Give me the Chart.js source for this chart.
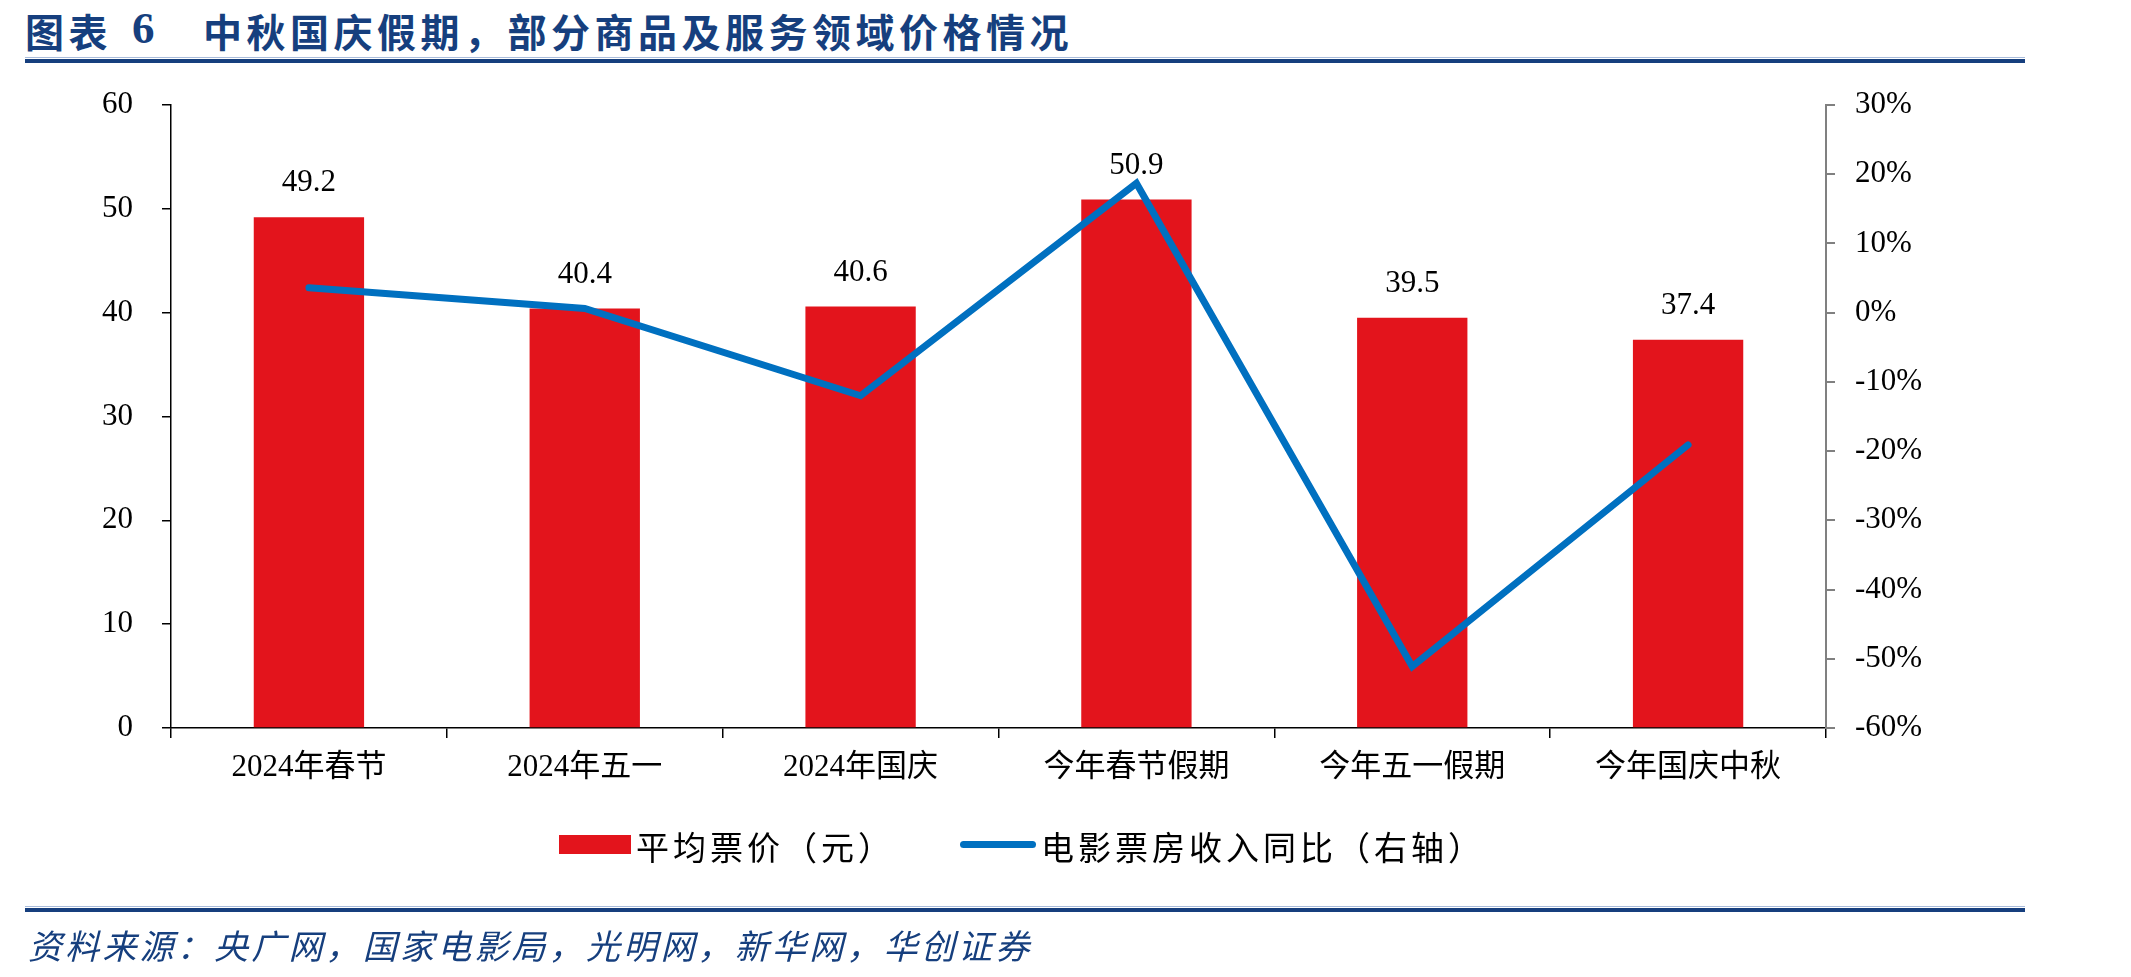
<!DOCTYPE html>
<html lang="zh">
<head>
<meta charset="UTF-8">
<title>中秋国庆假期，部分商品及服务领域价格情况</title>
<script src="https://cdn.jsdelivr.net/npm/chart.js"></script>
<style>
  html, body { margin: 0; padding: 0; background: #fff; }
  body { width: 2131px; height: 977px; position: relative; overflow: hidden; font-family: "Noto Sans CJK SC", sans-serif; }
  .title { position: absolute; top: 2px; font-size: 39px; font-weight: bold; color: #163f7e; letter-spacing: 4.5px; white-space: nowrap; }
  .rule-thin { position: absolute; left: 25px; width: 2000px; height: 1px; background: #a9bcdb; }
  .rule-thick { position: absolute; left: 25px; width: 2000px; height: 4px; background: #163f7e; }
  .source { position: absolute; left: 28px; top: 920px; font-size: 34px; font-style: italic; color: #163f7e; letter-spacing: 3.2px; white-space: nowrap; }
  .legend { position: absolute; top: 822px; font-size: 33px; color: #000; letter-spacing: 4px; white-space: nowrap; }
  .swatch { position: absolute; }
  #wrap { position: absolute; left: 0; top: 0; width: 2131px; height: 977px; }
</style>
</head>
<body>
<div class="title" style="left:25px">图表</div>
<div class="title" style="left:132px; top:3px; font-size:45px; line-height:50px; font-family:'Liberation Serif', serif;">6</div>
<div class="title" style="left:203px">中秋国庆假期，部分商品及服务领域价格情况</div>
<div class="rule-thin" style="top:57px"></div>
<div class="rule-thick" style="top:59px"></div>

<div id="wrap"><canvas id="chart" width="2131" height="977"></canvas></div>

<div class="swatch" style="left:559px; top:835px; width:72px; height:19px; background:#e3141c;"></div>
<div class="legend" style="left:636px">平均票价（元）</div>
<div class="swatch" style="left:960px; top:841px; width:76px; height:7px; border-radius:4px; background:#0070c0;"></div>
<div class="legend" style="left:1041px">电影票房收入同比（右轴）</div>

<div class="rule-thin" style="top:906px"></div>
<div class="rule-thick" style="top:908px"></div>
<div class="source">资料来源：央广网，国家电影局，光明网，新华网，华创证券</div>

<script>
// categories and values
const categories = ['2024年春节', '2024年五一', '2024年国庆', '今年春节假期', '今年五一假期', '今年国庆中秋'];
const avgTicketPrice = [49.2, 40.4, 40.6, 50.9, 39.5, 37.4];   // 平均票价（元）
const boxOfficeYoY = [3.6, 0.6, -12.0, 18.7, -51.1, -19.1];    // 电影票房收入同比（%）
const leftAxisRange = [0, 60, 10];
const rightAxisRange = [-60, 30, 10];

const tickFont = { family: "'Liberation Serif', 'Noto Sans CJK SC', serif", size: 31 };

// value labels above the bars
const barLabels = {
  id: 'barLabels',
  afterDatasetsDraw(chart) {
    const ctx = chart.ctx;
    const meta = chart.getDatasetMeta(1);
    ctx.save();
    ctx.font = "31px 'Liberation Serif', serif";
    ctx.fillStyle = '#000';
    ctx.textAlign = 'center';
    ctx.textBaseline = 'middle';
    meta.data.forEach((bar, i) => {
      ctx.fillText(avgTicketPrice[i].toFixed(1), bar.x, bar.y - 34);
    });
    ctx.restore();
  }
};

new Chart(document.getElementById('chart'), {
  type: 'bar',
  data: {
    labels: categories,
    datasets: [
      {
        type: 'line',
        label: '电影票房收入同比（右轴）',
        data: boxOfficeYoY,
        yAxisID: 'y1',
        borderColor: '#0070c0',
        borderWidth: 7,
        borderCapStyle: 'round',
        borderJoinStyle: 'miter',
        pointRadius: 0,
        tension: 0,
        order: 0
      },
      {
        type: 'bar',
        label: '平均票价（元）',
        data: avgTicketPrice,
        yAxisID: 'y',
        backgroundColor: '#e3141c',
        barPercentage: 0.4,
        categoryPercentage: 1,
        order: 1
      }
    ]
  },
  options: {
    responsive: false,
    animation: false,
    devicePixelRatio: 1,
    layout: { padding: { top: 105, bottom: 189, left: 0, right: 0 } },
    plugins: { legend: { display: false }, tooltip: { enabled: false } },
    scales: {
      x: {
        grid: { offset: true, drawOnChartArea: false, tickLength: 10, color: '#000', lineWidth: 1.5 },
        border: { color: '#000', width: 1.5 },
        ticks: { font: tickFont, color: '#000', padding: 11, maxRotation: 0, autoSkip: false },
        afterFit(s) { s.height = 60; }
      },
      y: {
        position: 'left',
        min: leftAxisRange[0], max: leftAxisRange[1],
        grid: { drawOnChartArea: false, tickLength: 9, color: '#000', lineWidth: 1.5 },
        border: { color: '#000', width: 1.5 },
        ticks: { stepSize: leftAxisRange[2], font: tickFont, color: '#000', padding: 29 },
        afterFit(s) { s.width = 171; }
      },
      y1: {
        position: 'right',
        min: rightAxisRange[0], max: rightAxisRange[1],
        grid: { drawOnChartArea: false, tickLength: 9, color: '#808080', lineWidth: 2 },
        border: { color: '#808080', width: 2 },
        ticks: { stepSize: rightAxisRange[2], font: tickFont, color: '#000', padding: 20, callback: v => v + '%' },
        afterFit(s) { s.width = 305; }
      }
    }
  },
  plugins: [barLabels]
});
</script>
</body>
</html>
